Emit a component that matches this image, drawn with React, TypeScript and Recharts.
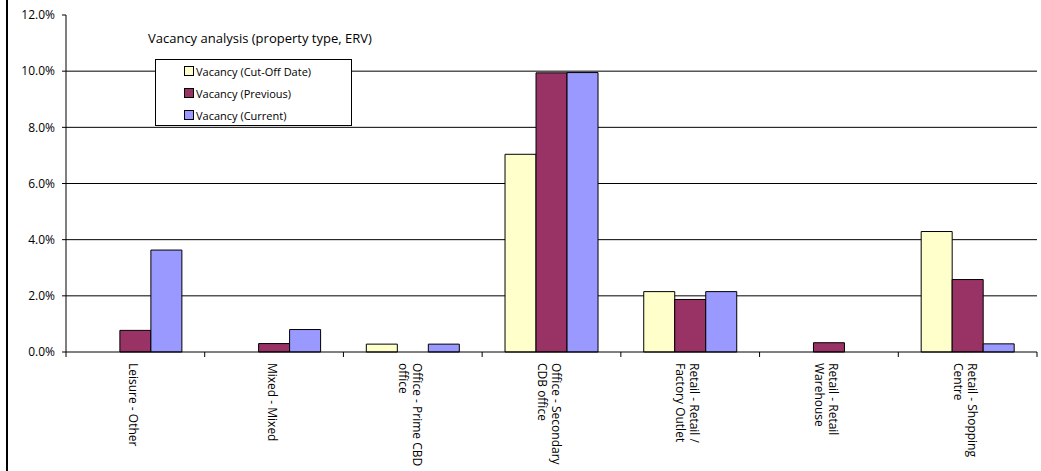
import React from 'react';
import { BarChart, Bar, XAxis, YAxis, CartesianGrid } from 'recharts';

const categories = [
    'Leisure - Other',
    'Mixed - Mixed',
    'Office - Prime CBD office',
    'Office - Secondary CDB office',
    'Retail - Retail / Factory Outlet',
    'Retail - Retail Warehouse',
    'Retail - Shopping Centre',
];
// how Excel wrapped the category labels
const tickLines = [
    ['Leisure - Other'],
    ['Mixed - Mixed'],
    ['Office - Prime CBD', 'office'],
    ['Office - Secondary', 'CDB office'],
    ['Retail - Retail /', 'Factory Outlet'],
    ['Retail - Retail', 'Warehouse'],
    ['Retail - Shopping', 'Centre'],
];
const cutOff = [0, 0, 0.0028, 0.0704, 0.0215, 0, 0.0429];
const previous = [0.0077, 0.003, 0, 0.0994, 0.0187, 0.0033, 0.0258];
const current = [0.0363, 0.008, 0.0028, 0.0995, 0.0215, 0, 0.0029];
const yTicks = [0, 0.02, 0.04, 0.06, 0.08, 0.1, 0.12];
const gridValues = [0.02, 0.04, 0.06, 0.08, 0.1];

const series = [
    { key: 'cutOff', name: 'Vacancy (Cut-Off Date)', color: '#FFFFCC' },
    { key: 'previous', name: 'Vacancy (Previous)', color: '#993366' },
    { key: 'current', name: 'Vacancy (Current)', color: '#9999FF' },
];

const data = categories.map((c, i) => ({
    category: c,
    cutOff: cutOff[i],
    previous: previous[i],
    current: current[i],
}));

const W = 1041;
const H = 471;
const Y_AXIS_W = 66;
const RIGHT = 4;
const BAND = (W - Y_AXIS_W - RIGHT) / categories.length;
const FONT = '"Open Sans", sans-serif';

const XTick = (props: any) => {
    const { x, y, index } = props;
    const lines = tickLines[index] || [];
    const half = BAND / 2;
    const first = lines.length > 1 ? 0 : 6;
    return (
        <g>
            <line x1={x - half} x2={x - half} y1={y} y2={y + 5} stroke="#000" />
            {index === categories.length - 1 && (
                <line x1={x + half} x2={x + half} y1={y} y2={y + 5} stroke="#000" />
            )}
            <text transform={`translate(${x},${y + 11}) rotate(90)`} fontSize={12} fill="#000" fontFamily={FONT}>
                {lines.map((l, i) => (
                    <tspan key={i} x={0} y={first + i * 14}>{l}</tspan>
                ))}
            </text>
        </g>
    );
};

const LegendBox = () => (
    <div
        style={{
            position: 'absolute', left: 155, top: 59, width: 197, height: 67, boxSizing: 'border-box',
            border: '1px solid #000', background: '#fff', fontFamily: FONT, fontSize: 11, color: '#000', zIndex: 2,
        }}
    >
        {series.map((s) => (
            <div key={s.key} style={{ height: 22, display: 'flex', alignItems: 'center', paddingLeft: 28 }}>
                <span style={{ width: 8, height: 8, background: s.color, border: '1px solid #000', marginRight: 2, display: 'inline-block' }} />
                <span>{s.name}</span>
            </div>
        ))}
    </div>
);

const App: React.FC = () => {
    return (
        <div style={{ position: 'absolute', left: 0, top: 0, width: W, height: H, background: '#fff' }}>
            <div style={{ position: 'absolute', left: 6, top: 0, width: 2, height: H, background: '#000' }} />
            <div style={{ position: 'absolute', left: 148, top: 29, fontFamily: FONT, fontSize: 13, lineHeight: '18px', color: '#000', zIndex: 2 }}>
                Vacancy analysis (property type, ERV)
            </div>
            <LegendBox />
            <BarChart
                width={W}
                height={H}
                data={data}
                margin={{ top: 15, right: RIGHT, left: 0, bottom: 0 }}
                barCategoryGap="16.5%"
                barGap={0}
            >
                <CartesianGrid vertical={false} stroke="#000" horizontalValues={gridValues} />
                <XAxis
                    dataKey="category"
                    height={119}
                    tick={<XTick />}
                    tickLine={false}
                    tickSize={0}
                    tickMargin={0}
                    interval={0}
                    axisLine={{ stroke: '#000' }}
                />
                <XAxis xAxisId="top" dataKey="category" orientation="top" height={0} tick={false} tickLine={false} axisLine={{ stroke: '#999' }} />
                <YAxis
                    width={Y_AXIS_W}
                    domain={[0, 0.12]}
                    ticks={yTicks}
                    tickFormatter={(v) => `${(Number(v) * 100).toFixed(1)}%`}
                    tick={{ fontSize: 12, fill: '#000', fontFamily: FONT }}
                    tickSize={4}
                    tickMargin={7}
                    tickLine={{ stroke: '#000' }}
                    axisLine={{ stroke: '#000' }}
                />
                <YAxis yAxisId="right" orientation="right" width={0} domain={[0, 0.12]} tick={false} tickLine={false} axisLine={{ stroke: '#999' }} />
                {series.map((s) => (
                    <Bar key={s.key} dataKey={s.key} name={s.name} fill={s.color} stroke="#000" strokeWidth={1} isAnimationActive={false} />
                ))}
            </BarChart>
        </div>
    );
};

export default App;
